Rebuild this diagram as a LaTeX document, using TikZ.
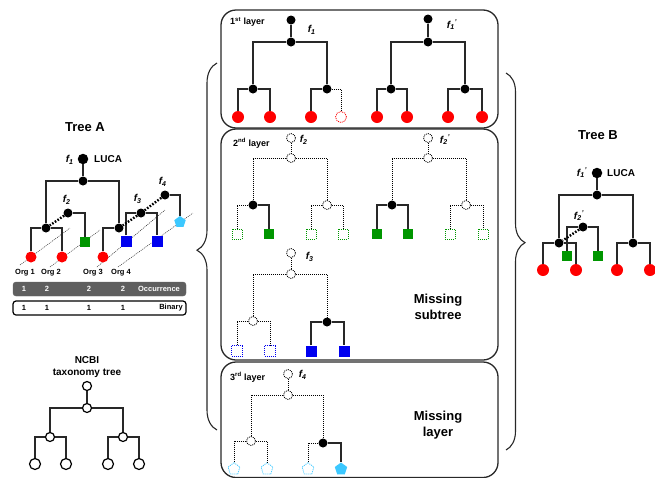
\documentclass[tikz,border=0pt]{standalone}
\usepackage{fontspec}
\setmainfont{Liberation Sans}
\usetikzlibrary{shapes.geometric,decorations.pathreplacing}
\definecolor{cred}{RGB}{255,0,0}
\definecolor{cgreen}{RGB}{0,150,0}
\definecolor{cblue}{RGB}{0,0,240}
\definecolor{ccyan}{RGB}{60,200,255}
\definecolor{cbar}{RGB}{95,95,95}
\definecolor{cline}{RGB}{40,40,40}
\newcommand{\flb}[2]{f\textsubscript{#1}\textsuperscript{#2}}
\tikzset{
  edge/.style={draw=cline, line width=1.3pt},
  dedge/.style={draw=black, line width=0.9pt, dash pattern=on 1pt off 1pt},
  tdot/.style={draw=black, line width=2.4pt, dash pattern=on 1.6pt off 1.6pt},
  orgline/.style={draw=cline, line width=0.5pt, dash pattern=on 1pt off 1pt},
  bn/.style={circle, fill=black, inner sep=0pt, minimum size=9pt},
  bnb/.style={circle, fill=black, inner sep=0pt, minimum size=10.5pt},
  dn/.style={circle, draw=black, fill=white, dash pattern=on 1pt off 1pt, line width=0.8pt, inner sep=0pt, minimum size=9pt},
  on/.style={circle, draw=black, fill=white, line width=1.2pt, inner sep=0pt, minimum size=9pt},
  onl/.style={on, minimum size=11pt},
  rleaf/.style={circle, fill=cred, inner sep=0pt, minimum size=12pt},
  rdleaf/.style={circle, draw=cred, fill=white, dash pattern=on 1pt off 1pt, line width=0.8pt, inner sep=0pt, minimum size=11pt},
  gleaf/.style={rectangle, fill=cgreen, inner sep=0pt, minimum size=10.5pt},
  gdleaf/.style={rectangle, draw=cgreen, fill=white, dash pattern=on 1pt off 1pt, line width=0.8pt, inner sep=0pt, minimum size=10pt},
  bleaf/.style={rectangle, fill=cblue, inner sep=0pt, minimum size=11pt},
  bdleaf/.style={rectangle, draw=cblue, fill=white, dash pattern=on 1pt off 1pt, line width=0.8pt, inner sep=0pt, minimum size=10.5pt},
  cleaf/.style={regular polygon, regular polygon sides=5, fill=ccyan, inner sep=0pt, minimum size=13pt},
  cdleaf/.style={regular polygon, regular polygon sides=5, draw=ccyan, fill=white, dash pattern=on 1pt off 1pt, line width=0.8pt, inner sep=0pt, minimum size=12.5pt},
  lbl/.style={font=\bfseries\fontsize{9}{11}\selectfont, inner sep=0pt},
  big/.style={font=\bfseries\fontsize{13}{15.5}\selectfont, inner sep=0pt, align=center},
  mid/.style={font=\bfseries\fontsize{10}{12.5}\selectfont, inner sep=0pt, align=center},
  small/.style={font=\bfseries\fontsize{7.5}{9}\selectfont, inner sep=0pt},
  flab/.style={font=\bfseries\itshape\fontsize{10}{12}\selectfont, inner sep=0pt},
  layerbox/.style={draw=cline, line width=1.3pt, rounded corners=15pt},
  bracestyle/.style={draw=cline, line width=1.1pt, decorate}
}
\begin{document}
\begin{tikzpicture}[x=1pt, y=-1pt]
\useasboundingbox (0,0) rectangle (655,477);

% layer boxes
\draw[layerbox] (221,10) rectangle (498,128);
\draw[layerbox] (221,129) rectangle (498,360);
\draw[layerbox] (221,362) rectangle (498,477.5);

% braces
\draw[bracestyle, decoration={brace, amplitude=20pt, aspect=0.49}] (217,430) -- (217,63);
\draw[bracestyle, decoration={brace, amplitude=19pt, aspect=0.45}] (506,73) -- (506,450);

% ---------- 1st layer ----------
\node[lbl, anchor=west] (l1) at (230,22) {1\textsuperscript{st} layer};
\node[bn] (t1r) at (291,20) {};
\node[bn] (t1n) at (291,42) {};
\node[bn] (t1a) at (253,89) {};
\node[bn] (t1b) at (327,89) {};
\node[rleaf] (t1a1) at (238,117) {};
\node[rleaf] (t1a2) at (270,117) {};
\node[rleaf] (t1b1) at (311,117) {};
\node[rdleaf] (t1b2) at (341,117) {};
\draw[edge] (t1r) -- (t1n);
\draw[edge] (t1a) |- (t1n) -| (t1b);
\draw[edge] (t1a1) |- (t1a) -| (t1a2);
\draw[edge] (t1b1) |- (t1b);
\draw[dedge] (t1b) -| (t1b2);
\node[flab] (f1) at (312,30) {\flb{1}{}};

\node[bn] (t2r) at (428,19) {};
\node[bn] (t2n) at (428,42) {};
\node[bn] (t2a) at (391,89) {};
\node[bn] (t2b) at (465,89) {};
\node[rleaf] (t2a1) at (377,117) {};
\node[rleaf] (t2a2) at (407,117) {};
\node[rleaf] (t2b1) at (448,117) {};
\node[rleaf] (t2b2) at (482,117) {};
\draw[edge] (t2r) -- (t2n);
\draw[edge] (t2a) |- (t2n) -| (t2b);
\draw[edge] (t2a1) |- (t2a) -| (t2a2);
\draw[edge] (t2b1) |- (t2b) -| (t2b2);
\node[flab] (f1p) at (452,25) {\flb{1}{'}};

% ---------- 2nd layer ----------
\node[lbl, anchor=west] (l2) at (233,143) {2\textsuperscript{nd} layer};
\node[dn] (t3r) at (291,138) {};
\node[dn] (t3n) at (291,158) {};
\node[bn] (t3a) at (253,205) {};
\node[dn] (t3b) at (327,205) {};
\node[gdleaf] (t3a1) at (237,234) {};
\node[gleaf] (t3a2) at (269,234) {};
\node[gdleaf] (t3b1) at (311,234) {};
\node[gdleaf] (t3b2) at (343,234) {};
\draw[dedge] (t3r) -- (t3n);
\draw[dedge] (t3a) |- (t3n) -| (t3b);
\draw[dedge] (t3a1) |- (t3a);
\draw[edge] (t3a) -| (t3a2);
\draw[dedge] (t3b1) |- (t3b) -| (t3b2);
\node[flab] (f2) at (304,140) {\flb{2}{}};

\node[dn] (t4r) at (428,138) {};
\node[dn] (t4n) at (428,158) {};
\node[bn] (t4a) at (392,205) {};
\node[dn] (t4b) at (466,205) {};
\node[gleaf] (t4a1) at (377,234) {};
\node[gleaf] (t4a2) at (408,234) {};
\node[gdleaf] (t4b1) at (450,234) {};
\node[gdleaf] (t4b2) at (483,234) {};
\draw[dedge] (t4r) -- (t4n);
\draw[dedge] (t4a) |- (t4n) -| (t4b);
\draw[edge] (t4a1) |- (t4a) -| (t4a2);
\draw[dedge] (t4b1) |- (t4b) -| (t4b2);
\node[flab] (f2p) at (445,140) {\flb{2}{'}};

\node[dn] (t5r) at (291,253) {};
\node[dn] (t5n) at (291,274) {};
\node[dn] (t5a) at (253,321) {};
\node[bn] (t5b) at (327,322) {};
\node[bdleaf] (t5a1) at (237,351) {};
\node[bdleaf] (t5a2) at (270,351) {};
\node[bleaf] (t5b1) at (311,351) {};
\node[bleaf] (t5b2) at (344,351) {};
\draw[dedge] (t5r) -- (t5n);
\draw[dedge] (t5a) |- (t5n) -| (t5b);
\draw[dedge] (t5a1) |- (t5a) -| (t5a2);
\draw[edge] (t5b1) |- (t5b) -| (t5b2);
\node[flab] (f3) at (310,257) {\flb{3}{}};
\node[big] (ms) at (438,307) {Missing\\subtree};

% ---------- 3rd layer ----------
\node[lbl, anchor=west] (l3) at (230,377) {3\textsuperscript{rd} layer};
\node[dn] (t6r) at (288,374) {};
\node[dn] (t6n) at (288,395) {};
\node[dn] (t6a) at (251,441) {};
\node[bn] (t6b) at (323,443) {};
\node[cdleaf] (t6a1) at (234,469) {};
\node[cdleaf] (t6a2) at (267,469) {};
\node[cdleaf] (t6b1) at (308,469) {};
\node[cleaf] (t6b2) at (341,469) {};
\draw[dedge] (t6r) -- (t6n);
\draw[dedge] (t6a) |- (t6n) -| (t6b);
\draw[dedge] (t6a1) |- (t6a) -| (t6a2);
\draw[dedge] (t6b1) |- (t6b);
\draw[edge] (t6b) -| (t6b2);
\node[flab] (f4) at (303,375) {\flb{4}{}};
\node[big] (ml) at (438,425) {Missing\\layer};

% ---------- Tree A ----------
\node[big] (ta) at (85,127) {Tree A};
\node[bnb] (ar) at (83,159) {};
\node[flab] at (70,160) {\flb{1}{}};
\node[mid, anchor=west] (aluca) at (94,159) {LUCA};
\node[bn] (an) at (83,181) {};
\node[bn] (aa) at (46,228) {};
\node[bn] (ab) at (119,228) {};
\node[bn] (af2) at (68,213) {};
\node[bn] (af3) at (141,213) {};
\node[bn] (af4) at (165,195) {};
\coordinate (o1s) at (20,265); \coordinate (o1e) at (70,228);
\coordinate (o2s) at (50,267); \coordinate (o2e) at (100,230);
\coordinate (o3s) at (97,267); \coordinate (o3e) at (165,210);
\coordinate (o4s) at (118,267); \coordinate (o4e) at (193,213);
\draw[orgline] (o1s) -- (o1e);
\draw[orgline] (o2s) -- (o2e);
\draw[orgline] (o3s) -- (o3e);
\draw[orgline] (o4s) -- (o4e);
\node[rleaf, minimum size=11pt] (ao1) at (31,257) {};
\node[rleaf, minimum size=11pt] (ao2) at (62,257) {};
\node[rleaf, minimum size=11pt] (ao3) at (103,257) {};
\node[gleaf] (ag) at (85,242) {};
\node[bleaf] (ab1) at (126,241) {};
\node[bleaf] (ab2) at (157,241) {};
\node[cleaf, minimum size=12pt] (ac) at (180,222) {};
\draw[edge] (ar) -- (an);
\draw[edge] (aa) |- (an) -| (ab);
\draw[edge] (ao1) |- (aa) -| (ao2);
\draw[edge] (af2) -| (ag);
\draw[edge] (ao3) |- (ab);
\draw[edge] (ab1) |- (af3) -| (ab2);
\draw[edge] (af4) -| (ac);
\draw[tdot] (af2) -- (aa);
\draw[tdot] (af3) -- (ab);
\draw[tdot] (af4) -- (af3);
\node[flab] at (67,200) {\flb{2}{}};
\node[flab] at (138,199) {\flb{3}{}};
\node[flab] at (163,182) {\flb{4}{}};
\node[small] (org1) at (25,273) {Org 1};
\node[small] (org2) at (51,273) {Org 2};
\node[small] (org3) at (93,273) {Org 3};
\node[small] (org4) at (121,273) {Org 4};

\draw[fill=cbar, draw=cbar, rounded corners=3pt] (13,282) rectangle (186,296);
\node[small, text=white] at (24,289) {1};
\node[small, text=white] at (47,289) {2};
\node[small, text=white] at (89,289) {2};
\node[small, text=white] at (123,289) {2};
\node[small, text=white] (occ) at (159,289) {Occurrence};
\draw[draw=black, line width=1.2pt, rounded corners=3pt] (13,301) rectangle (186,315);
\node[small] at (24,308) {1};
\node[small] at (47,308) {1};
\node[small] at (89,308) {1};
\node[small] at (123,308) {1};
\node[small] (bin) at (171,308) {Binary};

% ---------- NCBI ----------
\node[mid] (ncbi) at (87,367) {NCBI\\taxonomy tree};
\node[on] (nr) at (87,386) {};
\node[on] (nn) at (87,408) {};
\node[on] (na) at (50,437) {};
\node[on] (nb) at (123,437) {};
\node[onl] (na1) at (35,464) {};
\node[onl] (na2) at (66,464) {};
\node[onl] (nb1) at (108,464) {};
\node[onl] (nb2) at (139,464) {};
\draw[edge] (nr) -- (nn);
\draw[edge] (na) |- (nn) -| (nb);
\draw[edge] (na1) |- (na) -| (na2);
\draw[edge] (nb1) |- (nb) -| (nb2);

% ---------- Tree B ----------
\node[big] (tb) at (598,135) {Tree B};
\node[bnb] (br) at (597,173) {};
\node[flab] at (582,173) {\flb{1}{'}};
\node[mid, anchor=west] (bluca) at (607,173) {LUCA};
\node[bn] (bnn) at (597,195) {};
\node[bn] (ba) at (559,243) {};
\node[bn] (bb) at (633,243) {};
\node[bn] (bf2) at (583,227) {};
\node[rleaf] (bl1) at (543,270) {};
\node[rleaf] (bl2) at (576,270) {};
\node[rleaf] (bl3) at (617,270) {};
\node[rleaf] (bl4) at (650,270) {};
\node[gleaf] (bg1) at (567,256) {};
\node[gleaf] (bg2) at (598,256) {};
\draw[edge] (br) -- (bnn);
\draw[edge] (ba) |- (bnn) -| (bb);
\draw[edge] (bl1) |- (ba) -| (bl2);
\draw[edge] (bl3) |- (bb) -| (bl4);
\draw[edge] (bg1) |- (bf2) -| (bg2);
\draw[tdot] (bf2) -- (ba);
\node[flab] at (579,216) {\flb{2}{'}};
\end{tikzpicture}
\end{document}
